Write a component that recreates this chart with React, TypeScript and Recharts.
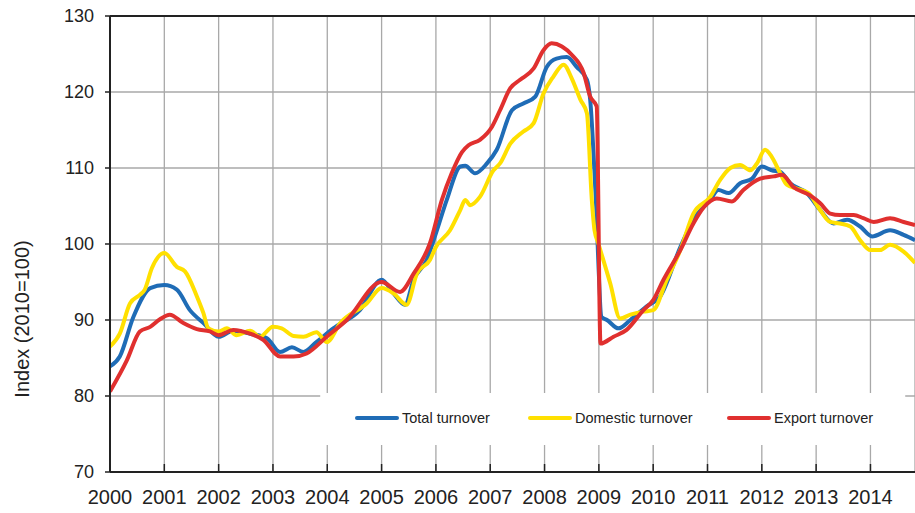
import { LineChart, Line, XAxis, YAxis, CartesianGrid, ReferenceLine, ReferenceArea, Legend } from 'recharts'

// [year, index] readings, 2010=100
const totalTurnover: [number, number][] = [
  [2000.0, 83.9], [2000.18, 85.2], [2000.43, 90.4], [2000.74, 94.2], [2001.0, 94.6], [2001.23, 94.0],
  [2001.47, 91.3], [2001.72, 89.6], [2002.0, 87.8], [2002.27, 88.6], [2002.58, 88.2], [2002.89, 87.6],
  [2003.13, 85.8], [2003.35, 86.4], [2003.56, 85.8], [2003.8, 87.1], [2004.11, 88.9], [2004.6, 91.3],
  [2005.0, 95.3], [2005.22, 93.5], [2005.43, 92.0], [2005.59, 95.3], [2005.83, 97.9], [2006.0, 101.4],
  [2006.2, 105.8], [2006.45, 110.2], [2006.54, 110.3], [2006.72, 109.3], [2006.94, 110.6], [2007.12, 112.4],
  [2007.4, 117.6], [2007.61, 118.5], [2007.83, 119.4], [2008.04, 123.3], [2008.22, 124.4], [2008.41, 124.6],
  [2008.59, 123.3], [2008.78, 121.6], [2008.84, 119.0], [2008.94, 106.5], [2009.05, 90.4], [2009.15, 90.0],
  [2009.36, 88.9], [2009.58, 90.0], [2009.88, 91.8], [2010.13, 93.1], [2010.5, 99.6], [2010.74, 103.2],
  [2011.05, 105.8], [2011.2, 107.1], [2011.39, 106.7], [2011.6, 108.0], [2011.82, 108.6], [2012.0, 110.2],
  [2012.18, 109.7], [2012.34, 109.5], [2012.52, 108.0], [2012.83, 106.7], [2013.07, 104.5], [2013.32, 102.7],
  [2013.57, 103.2], [2013.81, 102.3], [2014.03, 101.0], [2014.36, 101.8], [2014.61, 101.2], [2014.82, 100.5],
]

const domesticTurnover: [number, number][] = [
  [2000.0, 86.5], [2000.18, 88.2], [2000.37, 92.2], [2000.55, 93.3], [2000.64, 94.0], [2000.77, 96.8],
  [2001.0, 98.8], [2001.23, 97.0], [2001.38, 96.4], [2001.6, 93.1], [2001.72, 90.9], [2001.81, 88.9],
  [2002.0, 88.5], [2002.15, 88.9], [2002.33, 88.0], [2002.58, 88.6], [2002.76, 87.8], [2003.0, 89.1],
  [2003.16, 88.9], [2003.38, 87.9], [2003.56, 87.8], [2003.8, 88.4], [2003.99, 87.1], [2004.24, 89.6],
  [2004.73, 92.2], [2005.0, 94.2], [2005.22, 93.5], [2005.46, 92.0], [2005.65, 96.1], [2005.89, 97.9],
  [2006.0, 99.6], [2006.26, 101.8], [2006.45, 104.5], [2006.54, 105.8], [2006.63, 105.1], [2006.81, 106.2],
  [2007.06, 109.7], [2007.18, 110.6], [2007.37, 113.2], [2007.61, 114.8], [2007.8, 115.9], [2007.98, 119.8],
  [2008.16, 122.0], [2008.35, 123.6], [2008.5, 121.8], [2008.66, 119.0], [2008.78, 117.2], [2008.87, 105.8],
  [2008.92, 101.8], [2008.99, 100.1], [2009.21, 94.8], [2009.39, 90.2], [2009.58, 90.7], [2009.82, 91.1],
  [2010.0, 91.3], [2010.25, 95.3], [2010.5, 99.2], [2010.74, 104.0], [2011.05, 106.2], [2011.23, 108.4],
  [2011.42, 110.0], [2011.6, 110.4], [2011.79, 109.7], [2011.91, 110.6], [2012.06, 112.4], [2012.18, 111.5],
  [2012.34, 109.3], [2012.46, 107.8], [2012.64, 107.3], [2012.86, 106.7], [2013.07, 104.5], [2013.26, 102.9],
  [2013.44, 102.7], [2013.63, 102.3], [2013.81, 100.5], [2014.0, 99.2], [2014.18, 99.2], [2014.36, 99.9],
  [2014.61, 99.0], [2014.82, 97.5],
]

const exportTurnover: [number, number][] = [
  [2000.0, 80.6], [2000.31, 84.7], [2000.55, 88.5], [2000.74, 89.1], [2000.92, 90.1], [2001.1, 90.7],
  [2001.35, 89.6], [2001.6, 88.8], [2001.84, 88.5], [2002.0, 88.0], [2002.27, 88.7], [2002.58, 88.2],
  [2002.82, 87.4], [2003.13, 85.2], [2003.38, 85.2], [2003.62, 85.6], [2003.99, 87.8], [2004.36, 90.0],
  [2005.0, 95.0], [2005.34, 93.7], [2005.59, 96.1], [2005.89, 100.1], [2006.11, 105.8], [2006.29, 109.3],
  [2006.48, 112.1], [2006.6, 113.0], [2006.81, 113.7], [2007.03, 115.4], [2007.18, 117.6], [2007.37, 120.5],
  [2007.55, 121.6], [2007.8, 123.1], [2007.98, 125.5], [2008.13, 126.4], [2008.32, 126.0], [2008.5, 124.9],
  [2008.72, 122.5], [2008.84, 119.4], [2008.96, 118.1], [2009.03, 86.9], [2009.27, 87.8], [2009.51, 88.7],
  [2009.82, 91.3], [2010.0, 92.6], [2010.19, 95.3], [2010.5, 99.2], [2010.74, 102.7], [2010.94, 104.9],
  [2011.17, 106.0], [2011.45, 105.6], [2011.66, 107.1], [2011.97, 108.6], [2012.22, 108.9], [2012.37, 109.1],
  [2012.58, 107.5], [2012.89, 106.4], [2013.07, 105.4], [2013.26, 104.0], [2013.44, 103.8], [2013.69, 103.8],
  [2013.87, 103.4], [2014.06, 102.9], [2014.36, 103.4], [2014.61, 102.9], [2014.82, 102.5],
]

const seriesNames = ['Total turnover', 'Domestic turnover', 'Export turnover']
const years = [2000, 2001, 2002, 2003, 2004, 2005, 2006, 2007, 2008, 2009, 2010, 2011, 2012, 2013, 2014]
const yTicks = [70, 80, 90, 100, 110, 120, 130]

const toRows = (pts: [number, number][]) => pts.map(([t, v]) => ({ t, v }))

const FONT = '"Liberation Sans", Arial, sans-serif'
const legendItemWidths = [173, 199, 180]

function XTick(props: any) {
  const { x, y, payload } = props
  const axisY = y - 18
  return (
    <g>
      <line x1={x} y1={axisY} x2={x} y2={axisY - 8} stroke="#222" strokeWidth={1.5} />
      <text x={x} y={y} dy="0.71em" textAnchor="middle" fontSize={20} fill="#222" fontFamily={FONT}>
        {payload.value}
      </text>
    </g>
  )
}

function YLabel() {
  return (
    <text x={22} y={319} transform="rotate(-90 22 319)" textAnchor="middle" dominantBaseline="central"
      fontSize={20} fill="#222" fontFamily={FONT}>
      Index (2010=100)
    </text>
  )
}

function LegendContent(props: any) {
  const items = [...(props.payload || [])].sort(
    (a: any, b: any) => seriesNames.indexOf(a.value) - seriesNames.indexOf(b.value)
  )
  return (
    <div style={{ display: 'flex', alignItems: 'center', fontFamily: FONT, fontSize: 14.5, color: '#222' }}>
      {items.map((it: any, i: number) => (
        <div key={it.value} style={{ display: 'flex', alignItems: 'center', width: legendItemWidths[i], whiteSpace: 'nowrap' }}>
          <span style={{ display: 'inline-block', width: 44, height: 4, borderRadius: 2, background: it.color, marginRight: 3 }} />
          <span>{it.value}</span>
        </div>
      ))}
    </div>
  )
}

export default function App() {
  return (
    <div style={{ position: 'absolute', left: 0, top: 0, width: 915, height: 513, background: '#fff' }}>
      <LineChart width={915} height={513} margin={{ top: 16, right: 0, bottom: 0, left: 0 }}>
        <CartesianGrid stroke="#a8a8a8" strokeWidth={1.3} />
        <XAxis
          dataKey="t"
          type="number"
          domain={[2000, 2014.82]}
          ticks={years}
          allowDataOverflow
          height={41}
          tickSize={0}
          tickMargin={18}
          tick={<XTick />}
          axisLine={{ stroke: '#222', strokeWidth: 2 }}
        />
        <YAxis
          type="number"
          domain={[70, 130]}
          ticks={yTicks}
          width={110}
          tickSize={5}
          tickMargin={11}
          tick={{ fontSize: 18, fill: '#222', fontFamily: FONT }}
          tickLine={{ stroke: '#222', strokeWidth: 1.5 }}
          axisLine={{ stroke: '#222', strokeWidth: 2 }}
          label={<YLabel />}
        />
        <ReferenceLine y={130} stroke="#222" strokeWidth={2} />
        <ReferenceArea x1={2003.87} x2={2014.64} y1={73.55} y2={80.4} fill="#fff" fillOpacity={1} stroke="none" />
        <Line data={toRows(totalTurnover)} dataKey="v" name={seriesNames[0]} type="monotone"
          stroke="#1f6cb6" strokeWidth={4} dot={false} isAnimationActive={false} />
        <Line data={toRows(domesticTurnover)} dataKey="v" name={seriesNames[1]} type="monotone"
          stroke="#ffe000" strokeWidth={4} dot={false} isAnimationActive={false} />
        <Line data={toRows(exportTurnover)} dataKey="v" name={seriesNames[2]} type="monotone"
          stroke="#e0302f" strokeWidth={4} dot={false} isAnimationActive={false} />
        <Legend
          layout="horizontal"
          verticalAlign="middle"
          align="center"
          content={<LegendContent />}
          wrapperStyle={{ position: 'absolute', left: 355, top: 410, width: 'auto', height: 'auto' }}
        />
      </LineChart>
    </div>
  )
}
